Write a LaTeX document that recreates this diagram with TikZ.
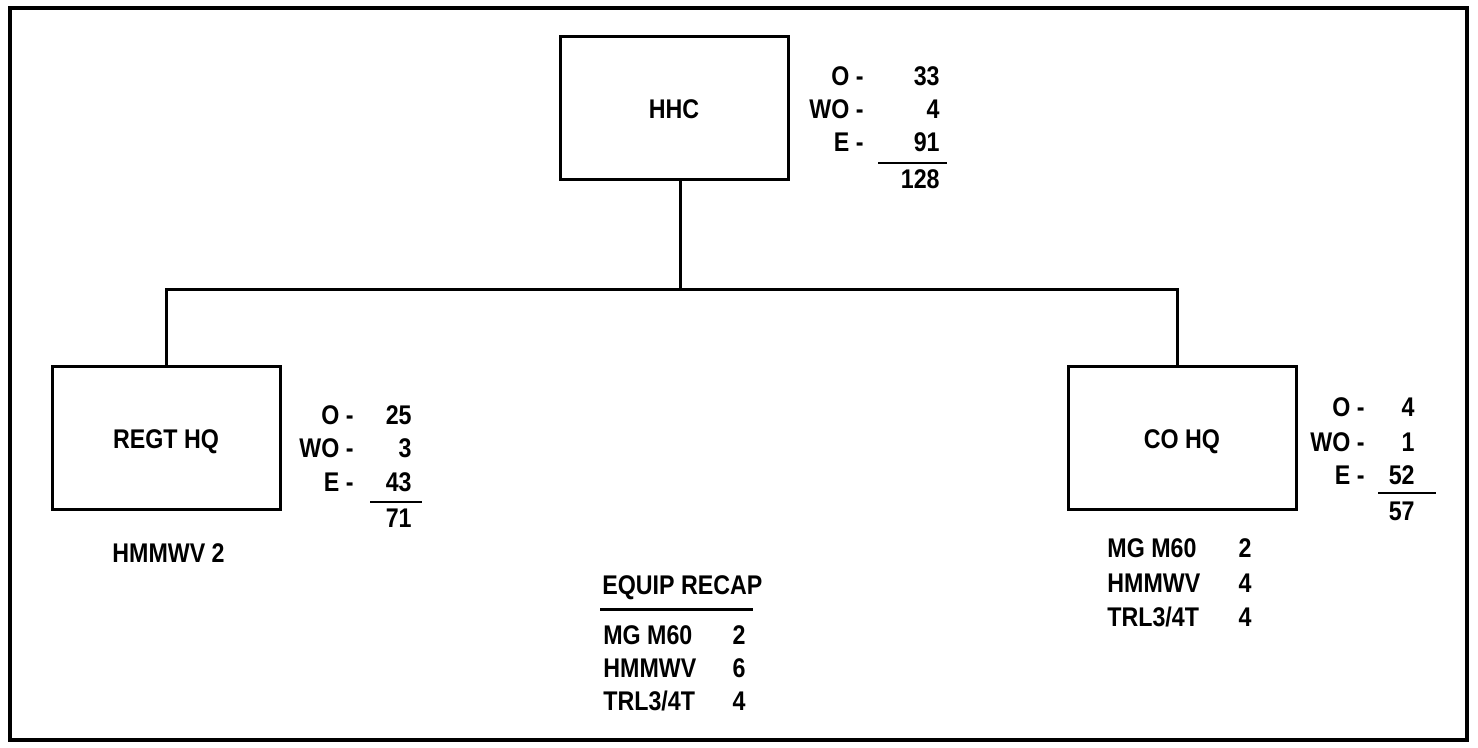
\documentclass[tikz,border=0pt]{standalone}
\usepackage{fontspec}
\setmainfont{Liberation Sans}[FakeStretch=0.86]
\usepackage{tikz}

\begin{document}
\begin{tikzpicture}[x=0.5pt,y=-0.5pt,
  unitbox/.style={draw,line width=1.5pt,minimum width=114pt,minimum height=71.5pt,
    inner sep=0pt,text height=10pt,text depth=0pt,font=\bfseries\fontsize{13.5}{16}\selectfont},
  figtext/.style={inner sep=0pt,text height=9.5pt,text depth=0pt,font=\bfseries\fontsize{13.5}{15}\selectfont},
  link/.style={line width=1.5pt},
  sumline/.style={line width=1pt}]
\path[use as bounding box] (0,0) rectangle (1478,748);
\draw[line width=2pt] (10,8) rectangle (1467,740);
% units
\node[unitbox] (hhc) at (674,108.5) {HHC};
\node[unitbox] (regt) at (166,438.5) {REGT HQ};
\node[unitbox] (co) at (1182,438.5) {CO HQ};
% lines
\coordinate (bus) at (680,290);
\coordinate (cotop) at (1177,290);
\draw[link] (hhc.south -| bus) -- (bus);
\draw[link] (regt.north) |- (bus) -- (cotop) -- (co.north -| cotop);
% HHC strength
\node[figtext,anchor=east] (hhco) at (864,76) {O -};
\node[figtext,anchor=east] (hhcwo) at (864,109) {WO -};
\node[figtext,anchor=east] (hhce) at (864,142) {E -};
\node[figtext,anchor=east] (hhcon) at (940,76) {33};
\node[figtext,anchor=east] (hhcwon) at (940,109) {4};
\node[figtext,anchor=east] (hhcen) at (940,142) {91};
\draw[sumline] (878,163) -- (947,163);
\node[figtext,anchor=east] (hhctot) at (940,179) {128};
% REGT HQ strength
\node[figtext,anchor=east] (regto) at (354,415) {O -};
\node[figtext,anchor=east] (regtwo) at (354,448) {WO -};
\node[figtext,anchor=east] (regte) at (354,482) {E -};
\node[figtext,anchor=east] (regton) at (412,415) {25};
\node[figtext,anchor=east] (regtwon) at (412,448) {3};
\node[figtext,anchor=east] (regten) at (412,482) {43};
\draw[sumline] (370,502) -- (422,502);
\node[figtext,anchor=east] (regttot) at (412,518) {71};
\node[figtext,anchor=west] (regteq) at (112,553) {HMMWV 2};
% CO HQ strength
\node[figtext,anchor=east] (coo) at (1365,407) {O -};
\node[figtext,anchor=east] (cowo) at (1365,442) {WO -};
\node[figtext,anchor=east] (coe) at (1365,475) {E -};
\node[figtext,anchor=east] (coon) at (1415,407) {4};
\node[figtext,anchor=east] (cowon) at (1415,442) {1};
\node[figtext,anchor=east] (coen) at (1415,475) {52};
\draw[sumline] (1378,493) -- (1436,493);
\node[figtext,anchor=east] (cotot) at (1415,511) {57};
\node[figtext,anchor=west] (coeqa) at (1107,548) {MG M60};
\node[figtext,anchor=west] (coeqb) at (1107,583) {HMMWV};
\node[figtext,anchor=west] (coeqc) at (1107,617) {TRL3/4T};
\node[figtext,anchor=east] (coeqan) at (1252,548) {2};
\node[figtext,anchor=east] (coeqbn) at (1252,583) {4};
\node[figtext,anchor=east] (coeqcn) at (1252,617) {4};
% equip recap
\node[figtext,anchor=west] (recap) at (602,585) {EQUIP RECAP};
\draw[link] (600,609) -- (753,609);
\node[figtext,anchor=west] (recapa) at (603,635) {MG M60};
\node[figtext,anchor=west] (recapb) at (603,668) {HMMWV};
\node[figtext,anchor=west] (recapc) at (603,701) {TRL3/4T};
\node[figtext,anchor=east] (recapan) at (746,635) {2};
\node[figtext,anchor=east] (recapbn) at (746,668) {6};
\node[figtext,anchor=east] (recapcn) at (746,701) {4};
\end{tikzpicture}
\end{document}
